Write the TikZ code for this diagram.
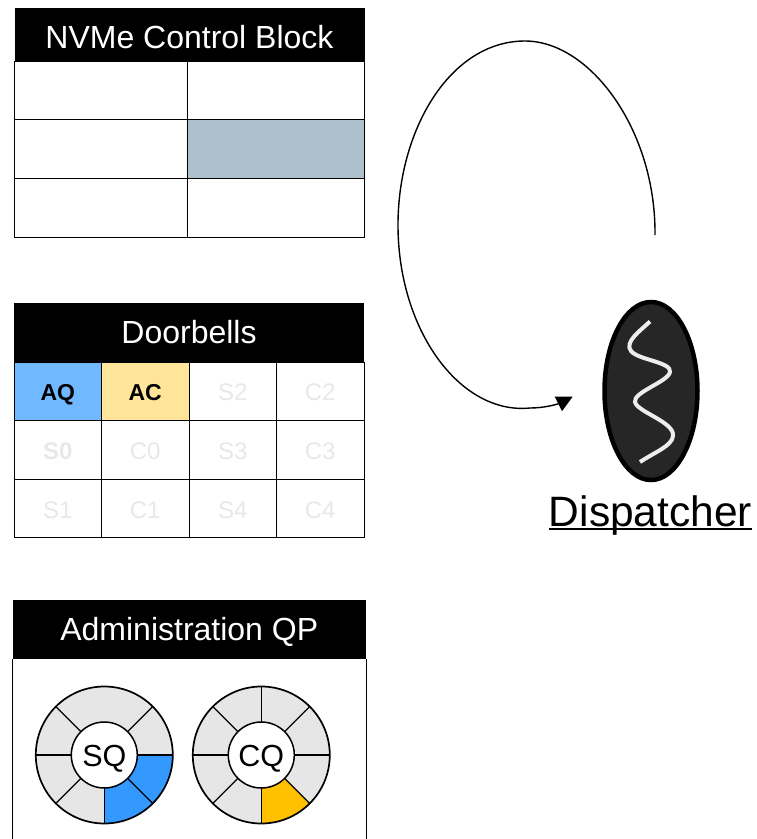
\documentclass[tikz,border=0pt]{standalone}
\usepackage{fontspec}
\setmainfont{Liberation Sans}
\usetikzlibrary{arrows.meta,shapes.geometric}
\definecolor{ringgray}{HTML}{E6E6E6}
\definecolor{ghost}{HTML}{E8E8E8}
\definecolor{sqblue}{HTML}{3399FF}
\definecolor{cqgold}{HTML}{FFC000}
\definecolor{aqblue}{HTML}{70B8FF}
\definecolor{acyellow}{HTML}{FFE599}
\definecolor{slate}{HTML}{AEC0CC}
\definecolor{thread}{HTML}{262626}
\tikzset{
  px/.style={x=1pt,y=-1pt},
  cell/.style={draw=black,line width=0.9pt,inner sep=0pt,outer sep=0pt},
  head/.style={fill=black,text=white,inner sep=0pt,outer sep=0pt,font=\fontsize{32}{34}\selectfont},
  bell/.style={anchor=base,font=\fontsize{24}{26}\selectfont,text=ghost},
  bellb/.style={anchor=base,font=\fontsize{24}{26}\selectfont\bfseries,text=ghost},
  belld/.style={anchor=base,font=\fontsize{23}{26}\selectfont\bfseries,text=black},
  ringline/.style={draw=black,line width=1.2pt},
  ringrim/.style={draw=black,line width=1.7pt},
  hub/.style={circle,draw=black,line width=1.5pt,fill=white,minimum size=66pt,inner sep=0pt,font=\fontsize{30.5}{32}\selectfont},
}
\begin{document}
\begin{tikzpicture}[px]
\useasboundingbox (0,0) rectangle (757,839);
% NVMe control block
\node[head,minimum width=350pt,minimum height=53pt,anchor=north west,text height=27pt,text depth=0pt] (nvme) at (14.5,8) {NVMe Control Block};
\foreach \yy/\yb in {61/119,119/178,178/237}{
  \draw[cell,fill=white] (14.5,\yy) rectangle (187.5,\yb);
  \draw[cell,fill=white] (187.5,\yy) rectangle (364.5,\yb);
}
\draw[cell,fill=slate] (187.5,119) rectangle (364.5,178);
% Doorbells
\node[head,minimum width=350pt,minimum height=59pt,anchor=north west,text height=21pt,text depth=0pt] (bells) at (14,303) {Doorbells};
\foreach \xa/\xb in {14/101.5,101.5/189,189/276.5,276.5/364}{
  \foreach \yy/\yb in {362/420.5,420.5/479,479/537}{
    \draw[cell,fill=white] (\xa,\yy) rectangle (\xb,\yb);
  }
}
\draw[cell,fill=aqblue] (14,362) rectangle (101.5,420.5);
\draw[cell,fill=acyellow] (101.5,362) rectangle (189,420.5);
\node[belld] (aq) at (57.75,400) {AQ};
\node[belld] (ac) at (145.25,400) {AC};
\node[bell] (s2) at (232.75,400) {S2};
\node[bell] (c2) at (320.25,400) {C2};
\node[bellb] (s0) at (57.75,459.5) {S0};
\node[bell] (c0) at (145.25,459.5) {C0};
\node[bell] (s3) at (232.75,459.5) {S3};
\node[bell] (c3) at (320.25,459.5) {C3};
\node[bell] (s1) at (57.75,518) {S1};
\node[bell] (c1) at (145.25,518) {C1};
\node[bell] (s4) at (232.75,518) {S4};
\node[bell] (c4) at (320.25,518) {C4};
% Administration QP
\draw[cell,fill=white] (12.5,659) -- (12.5,845) -- (366,845) -- (366,659);
\node[head,minimum width=353.5pt,minimum height=59pt,anchor=north west,text height=21pt,text depth=0pt] (admin) at (12.5,600) {Administration QP};
% SQ ring
\coordinate (sqc) at (104.3,755);
\fill[ringgray] (sqc) circle[radius=68.5];
\fill[sqblue] (sqc) -- ++(68.5,0) arc[start angle=0,end angle=90,radius=68.5,y=-1pt] -- cycle;
\foreach \a in {45,135,180,225,270,315}
  \draw[ringline] (sqc) -- ++({68.5*cos(\a)},{-68.5*sin(\a)});
\draw[ringline,line width=1.7pt] (sqc) -- ++(68.5,0);
\draw[ringrim] (sqc) circle[radius=68.5];
\node[hub,text height=22pt,text depth=0pt] (sq) at (sqc) {SQ};
% CQ ring
\coordinate (cqc) at (261.3,755);
\fill[ringgray] (cqc) circle[radius=68.5];
\fill[cqgold] (cqc) -- ++(0,68.5) arc[start angle=90,end angle=45,radius=68.5,y=-1pt] -- cycle;
\foreach \a in {0,45,90,135,180,225,270,315}
  \draw[ringline] (cqc) -- ++({68.5*cos(\a)},{-68.5*sin(\a)});
\draw[ringrim] (cqc) circle[radius=68.5];
\node[hub,text height=22pt,text depth=0pt] (cq) at (cqc) {CQ};
% Dispatcher
\node[ellipse,draw=black,line width=4.5pt,fill=thread,minimum width=93pt,minimum height=178pt,inner sep=0pt] (disp) at (651,391) {};
\draw[white!93!black,line width=4pt]
  (650,321.5) .. controls (640,331) and (624,342) .. (631,351)
  .. controls (638,360) and (672,362) .. (670,372)
  .. controls (668,382) and (633,392) .. (635,402)
  .. controls (637,412) and (675,422) .. (673,436)
  .. controls (672,446) and (655,452) .. (640,462);
\node[anchor=base,font=\fontsize{42.5}{44}\selectfont,inner sep=0pt,outer sep=0pt] (label) at (650.5,526) {Dispatcher};
\draw[line width=1.6pt] ([yshift=-3pt]label.base west) -- ([yshift=-3pt]label.base east);
% Arc
\coordinate (arcs) at (655,235);
\coordinate (arce) at (572.7,396.7);
\draw[line width=1.4pt,-{Triangle[length=16pt,width=16pt]}]
  (arcs) .. controls (656,130) and (590,41) .. (525,41)
  .. controls (450,41) and (398,130) .. (398,225)
  .. controls (398,330) and (460,415) .. (530,408)
  .. controls (545,408) and (558,404) .. (arce);
\end{tikzpicture}
\end{document}
